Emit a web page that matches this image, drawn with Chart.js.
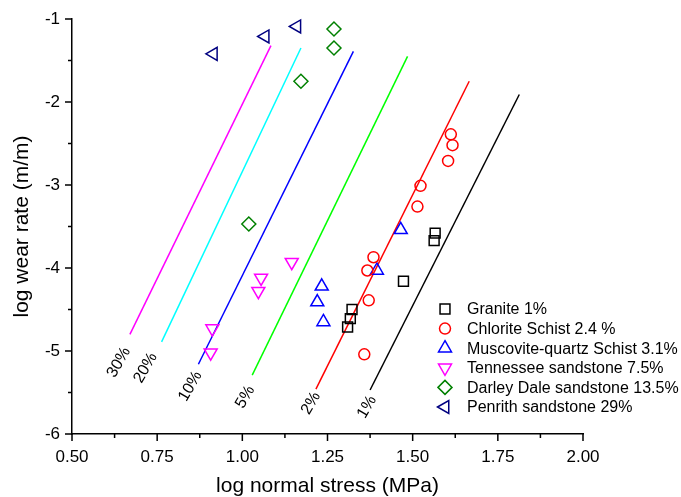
<!DOCTYPE html>
<html>
<head>
<meta charset="utf-8">
<script src="https://cdn.jsdelivr.net/npm/chart.js@4/dist/chart.umd.min.js"></script>
<style>
  html, body { margin: 0; padding: 0; background: #fff; }
</style>
</head>
<body>
<canvas id="wearChart" width="681" height="497"></canvas>
<script>
// Rock wear data: log normal stress (MPa) vs log wear rate (m/m)
const graniteStress   = [1.566, 1.563, 1.473, 1.322, 1.317, 1.309];
const graniteWear     = [-3.58, -3.67, -4.16, -4.50, -4.61, -4.71];
const chloriteStress  = [1.612, 1.617, 1.604, 1.523, 1.514, 1.385, 1.367, 1.371, 1.358];
const chloriteWear    = [-2.39, -2.52, -2.71, -3.01, -3.26, -3.87, -4.03, -4.39, -5.04];
const muscoviteStress = [1.465, 1.395, 1.233, 1.220, 1.238];
const muscoviteWear   = [-3.54, -4.03, -4.22, -4.41, -4.65];
const tennesseeStress = [1.145, 1.055, 1.047, 0.912, 0.907];
const tennesseeWear   = [-3.93, -4.12, -4.28, -4.73, -5.02];
const darleyStress    = [1.269, 1.269, 1.172, 1.019];
const darleyWear      = [-1.12, -1.35, -1.75, -3.47];
const penrithStress   = [0.915, 1.067, 1.160];
const penrithWear     = [-1.42, -1.21, -1.09];

// Porosity trend lines (start = lower end, end = upper end)
const trendLabels      = ['30%', '20%', '10%', '5%', '2%', '1%'];
const trendStressStart = [0.670, 0.763, 0.871, 1.029, 1.216, 1.375];
const trendWearStart   = [-4.80, -4.89, -5.16, -5.29, -5.46, -5.47];
const trendStressEnd   = [1.084, 1.172, 1.326, 1.485, 1.666, 1.813];
const trendWearEnd     = [-1.32, -1.35, -1.39, -1.45, -1.75, -1.91];
const trendColors      = ['#ff00ff', '#00ffff', '#0000ff', '#00ff00', '#ff0000', '#000000'];

const seriesNames = [
  'Granite 1%',
  'Chlorite Schist 2.4 %',
  'Muscovite-quartz Schist 3.1%',
  'Tennessee sandstone 7.5%',
  'Darley Dale sandstone 13.5%',
  'Penrith sandstone 29%'
];

const X_MIN = 0.5, X_MAX = 2.0, X_STEP = 0.25;
const Y_MIN = -6, Y_MAX = -1, Y_STEP = 1;

const FONT = '"Liberation Sans", Arial, Helvetica, sans-serif';

function pairs(xs, ys) {
  return xs.map((x, i) => ({ x: x, y: ys[i] }));
}

const markerSets = [
  { data: pairs(graniteStress, graniteWear),     color: '#000000', style: 'rect',     rot: 0,   r: 7 },
  { data: pairs(chloriteStress, chloriteWear),   color: '#ff0000', style: 'circle',   rot: 0,   r: 5.5 },
  { data: pairs(muscoviteStress, muscoviteWear), color: '#0000ff', style: 'triangle', rot: 0,   r: 7.5 },
  { data: pairs(tennesseeStress, tennesseeWear), color: '#ff00ff', style: 'triangle', rot: 180, r: 7.5 },
  { data: pairs(darleyStress, darleyWear),       color: '#008000', style: 'rectRot',  rot: 0,   r: 7 },
  { data: pairs(penrithStress, penrithWear),     color: '#000080', style: 'triangle', rot: -90, r: 7.5 }
];

const datasets = markerSets.map((s, i) => ({
  label: seriesNames[i],
  data: s.data,
  pointStyle: s.style,
  pointRotation: s.rot,
  pointRadius: s.r,
  pointHoverRadius: s.r,
  pointBorderWidth: 1.5,
  pointBorderColor: s.color,
  pointBackgroundColor: 'rgba(0,0,0,0)',
  borderColor: s.color,
  showLine: false,
  clip: false
}));

trendLabels.forEach((t, i) => {
  datasets.push({
    label: t,
    data: [
      { x: trendStressStart[i], y: trendWearStart[i] },
      { x: trendStressEnd[i], y: trendWearEnd[i] }
    ],
    showLine: true,
    borderColor: trendColors[i],
    borderWidth: 1.5,
    pointRadius: 0,
    pointHoverRadius: 0
  });
});

// tick marks drawn by hand so the minor ticks can be shorter
const axisTicks = {
  id: 'axisTicks',
  afterDraw(chart) {
    const { ctx, chartArea: a, scales: { x, y } } = chart;
    ctx.save();
    ctx.strokeStyle = '#000';
    ctx.lineWidth = 1.5;
    ctx.beginPath();
    for (let k = 0; k <= (X_MAX - X_MIN) / (X_STEP / 2) + 1e-9; k++) {
      const px = x.getPixelForValue(X_MIN + k * X_STEP / 2);
      ctx.moveTo(px, a.bottom);
      ctx.lineTo(px, a.bottom + (k % 2 === 0 ? 7 : 4));
    }
    for (let k = 0; k <= (Y_MAX - Y_MIN) / (Y_STEP / 2) + 1e-9; k++) {
      const py = y.getPixelForValue(Y_MIN + k * Y_STEP / 2);
      ctx.moveTo(a.left, py);
      ctx.lineTo(a.left - (k % 2 === 0 ? 7 : 4), py);
    }
    ctx.stroke();
    ctx.restore();
  }
};

// rotated percentage labels under each trend line
const labelShift = [[-11, 28], [-16, 26], [-8, 22], [-7, 22], [-5, 14], [-3, 17]];
const trendText = {
  id: 'trendText',
  afterDatasetsDraw(chart) {
    const { ctx, scales: { x, y } } = chart;
    ctx.save();
    ctx.font = '16px ' + FONT;
    ctx.fillStyle = '#000';
    ctx.textAlign = 'center';
    ctx.textBaseline = 'middle';
    trendLabels.forEach((t, i) => {
      const px = x.getPixelForValue(trendStressStart[i]) + labelShift[i][0];
      const py = y.getPixelForValue(trendWearStart[i]) + labelShift[i][1];
      ctx.save();
      ctx.translate(px, py);
      ctx.rotate(-60 * Math.PI / 180);
      ctx.fillText(t, 0, 0);
      ctx.restore();
    });
    ctx.restore();
  }
};

// legend inside the plot, lower right
const markerLegend = {
  id: 'markerLegend',
  afterDraw(chart) {
    const { ctx } = chart;
    ctx.save();
    ctx.font = '16px ' + FONT;
    ctx.textAlign = 'left';
    ctx.textBaseline = 'middle';
    markerSets.forEach((s, i) => {
      const rowY = 309 + i * 19.6;
      ctx.strokeStyle = s.color;
      ctx.fillStyle = 'rgba(0,0,0,0)';
      ctx.lineWidth = 1.5;
      Chart.helpers.drawPoint(ctx, {
        pointStyle: s.style,
        rotation: s.rot,
        radius: s.r,
        borderWidth: 1.5
      }, 445, rowY);
      ctx.fillStyle = '#000';
      ctx.fillText(seriesNames[i], 467, rowY + 1);
    });
    ctx.restore();
  }
};

const ctx = document.getElementById('wearChart').getContext('2d');
new Chart(ctx, {
  type: 'scatter',
  data: { datasets: datasets },
  options: {
    responsive: false,
    animation: false,
    layout: { padding: { top: 19, right: 98, left: 0, bottom: 0 } },
    plugins: {
      legend: { display: false },
      tooltip: { enabled: false }
    },
    scales: {
      x: {
        type: 'linear',
        min: X_MIN,
        max: X_MAX,
        afterFit(scale) { scale.height = 63; },
        border: { color: '#000', width: 1.5 },
        grid: { drawOnChartArea: false, tickLength: 8, tickColor: 'rgba(0,0,0,0)' },
        ticks: {
          stepSize: X_STEP,
          color: '#000',
          padding: 5,
          font: { family: FONT, size: 17 },
          callback: v => Number(v).toFixed(2)
        },
        title: {
          display: true,
          text: 'log normal stress (MPa)',
          color: '#000',
          font: { family: FONT, size: 21, lineHeight: 1 },
          padding: { top: 0, bottom: 0 }
        }
      },
      y: {
        type: 'linear',
        min: Y_MIN,
        max: Y_MAX,
        afterFit(scale) { scale.width = 72; },
        border: { color: '#000', width: 1.5 },
        grid: { drawOnChartArea: false, tickLength: 8, tickColor: 'rgba(0,0,0,0)' },
        ticks: {
          stepSize: Y_STEP,
          color: '#000',
          padding: 4,
          font: { family: FONT, size: 17 },
          callback: v => String(v)
        },
        title: {
          display: true,
          text: 'log wear rate (m/m)',
          color: '#000',
          font: { family: FONT, size: 21, lineHeight: 1 },
          padding: { top: 12, bottom: 0 }
        }
      }
    }
  },
  plugins: [axisTicks, trendText, markerLegend]
});
</script>
</body>
</html>
